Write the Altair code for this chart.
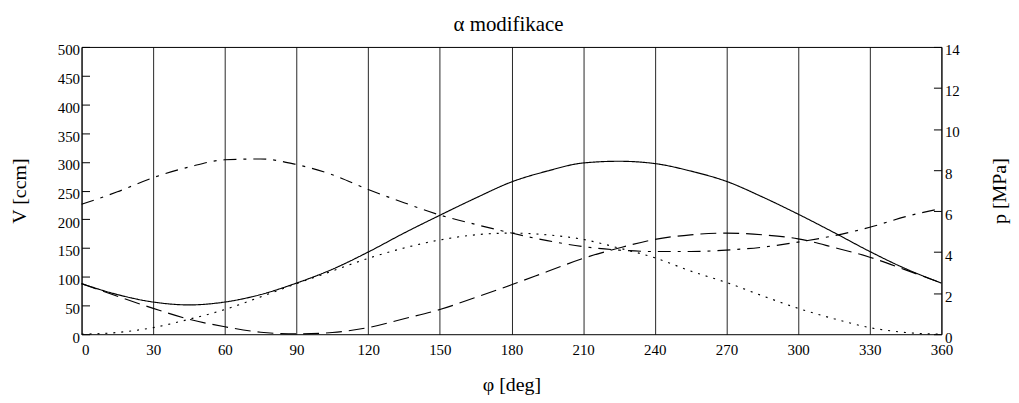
import altair as alt
import pandas as pd

# ---- data ----
phi = [0, 15, 30, 45, 60, 75, 90, 105, 120, 135, 150, 165, 180,
       195, 210, 225, 240, 255, 270, 285, 300, 315, 330, 345, 360]

# total volume V [ccm] (solid)
v_total = [88, 69, 56, 51, 56, 69, 89, 113, 143, 176, 207, 237, 265,
           284, 298, 301, 297, 284, 266, 239, 209, 177, 144, 114, 89]
# expansion volume [ccm] (dashed)
v_exp = [88, 66, 45, 26, 13, 3.5, 0.5, 3, 11.5, 27, 43, 64, 86,
         109, 132, 150, 165, 173, 176, 173, 166, 151, 134, 112, 89]
# compression volume [ccm] (dotted)
v_comp = [0, 3, 11.5, 26, 43, 65, 88, 110, 132, 150, 164, 173, 176,
          173, 165, 150, 133, 110, 90, 67, 45, 27, 11.5, 3, 0]
# pressure p [MPa] (dash-dot)
p_mpa = [6.33, 6.94, 7.63, 8.15, 8.50, 8.54, 8.27, 7.77, 7.05, 6.41, 5.81, 5.35, 4.93,
         4.56, 4.27, 4.10, 4.03, 4.03, 4.10, 4.24, 4.49, 4.80, 5.21, 5.73, 6.13]

x_ticks = list(range(0, 361, 30))
v_ticks = list(range(0, 501, 50))
p_ticks = list(range(0, 15, 2))

series_names = ["V", "Ve", "Vc"]
series_dash = [[1, 0], [16, 7], [2, 6]]

chart_title = ["α modifikace"]

W, H = 865, 289
FONT = "Liberation Serif"

rows = []
for name, vals in zip(series_names, [v_total, v_exp, v_comp]):
    for f, v in zip(phi, vals):
        rows.append({"phi": f, "V": v, "series": name})
dfV = pd.DataFrame(rows)
dfP = pd.DataFrame({"phi": phi, "p": p_mpa})
dfT = pd.DataFrame({"t": chart_title})

x_enc = alt.X(
    "phi:Q",
    scale=alt.Scale(domain=[0, 360], nice=False, zero=False),
    axis=alt.Axis(
        values=x_ticks, title="φ [deg]", format="d",
        grid=True, gridColor="black", gridOpacity=0.85, gridWidth=1,
        tickSize=0, domain=False, labelPadding=8, labelFlush=False,
        labelAlign={"condition": {"test": "datum.value == 0", "value": "left"}, "value": "center"},
        titleY=57, titleBaseline="alphabetic",
    ),
)

vlines = alt.Chart(dfV).mark_line(
    color="black", strokeWidth=1.15, interpolate="monotone"
).encode(
    x=x_enc,
    y=alt.Y(
        "V:Q",
        scale=alt.Scale(domain=[0, 500], nice=False),
        axis=alt.Axis(
            orient="left", values=v_ticks, title="V [ccm]",
            offset=-8, tickSize=8, domain=False, grid=False,
            labelPadding=2, labelOffset=3,
            titleAngle=270, titleX=-70, titleY=H / 2,
            titleBaseline="middle", titleAlign="center",
        ),
    ),
    strokeDash=alt.StrokeDash(
        "series:N",
        scale=alt.Scale(domain=series_names, range=series_dash),
        legend=None,
    ),
    detail="series:N",
)

pline = alt.Chart(dfP).mark_line(
    color="black", strokeWidth=1.15, interpolate="monotone", strokeDash=[13, 7, 3, 7]
).encode(
    x=x_enc,
    y=alt.Y(
        "p:Q",
        scale=alt.Scale(domain=[0, 14], nice=False),
        axis=alt.Axis(
            orient="right", values=p_ticks, title="p [MPa]",
            offset=-8, tickSize=8, domain=False, grid=False,
            labelPadding=3, labelOffset=3,
            titleAngle=270, titleX=66, titleY=H / 2,
            titleBaseline="middle", titleAlign="center",
        ),
    ),
)

title_mark = alt.Chart(dfT).mark_text(
    font=FONT, fontSize=21, color="black", align="center", baseline="alphabetic"
).encode(
    text="t:N",
    x=alt.value(W / 2 - 3),
    y=alt.value(-16),
)

chart = (
    alt.layer(vlines, pline, title_mark)
    .resolve_scale(y="independent")
    .properties(
        width=W,
        height=H,
        autosize=alt.AutoSizeParams(type="none"),
        padding={"left": 74, "top": 38, "right": 70, "bottom": 62},
    )
    .configure_view(stroke="black", strokeWidth=1)
    .configure_axis(
        labelFont=FONT, titleFont=FONT, labelFontSize=15, titleFontSize=20,
        labelColor="black", titleColor="black", tickColor="black",
        titleFontWeight="normal", tickWidth=1,
    )
)

chart.save("out.html", embed_options={"renderer": "svg", "actions": False})
